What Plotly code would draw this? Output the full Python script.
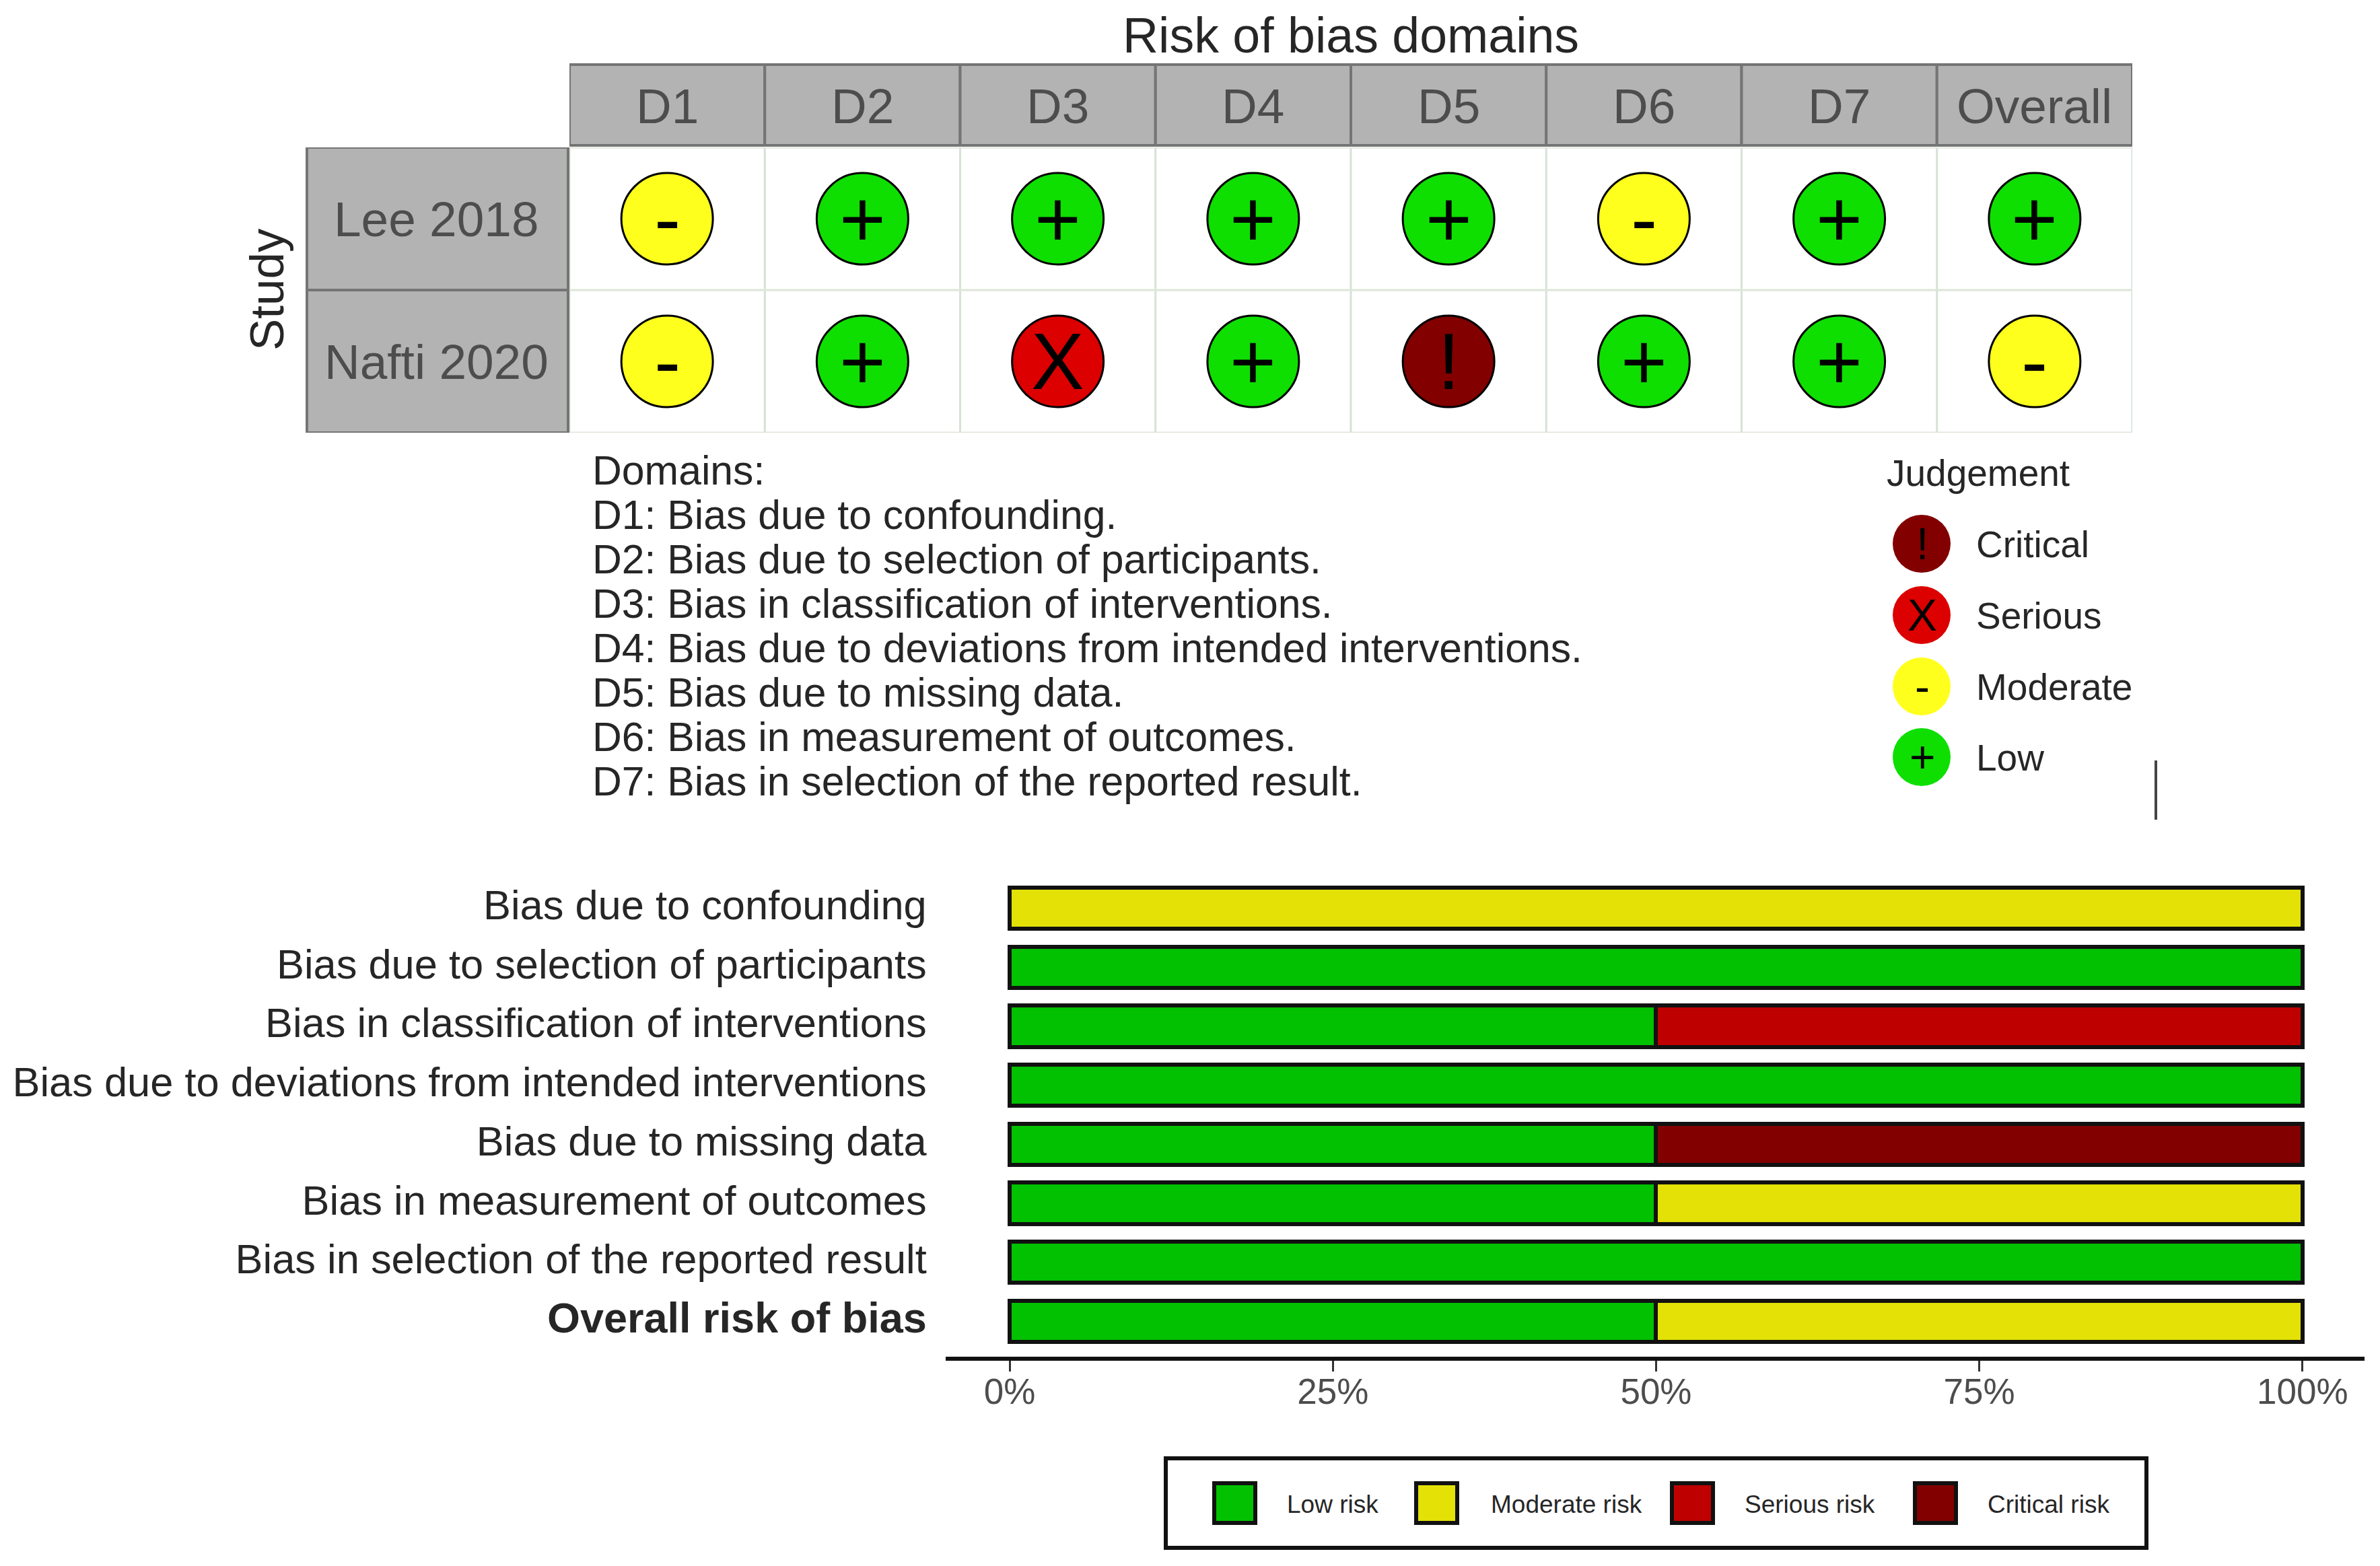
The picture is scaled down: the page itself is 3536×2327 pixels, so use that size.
import plotly.graph_objects as go

W, H = 3536, 2327
FONT = "Liberation Sans"
PAGE_MARGIN = 8  # the page body's default margin

# ---- data ----
domains = ["D1", "D2", "D3", "D4", "D5", "D6", "D7", "Overall"]
studies = ["Lee 2018", "Nafti 2020"]
judgements = {
    "Lee 2018":   ["Moderate", "Low", "Low", "Low", "Low", "Moderate", "Low", "Low"],
    "Nafti 2020": ["Moderate", "Low", "Serious", "Low", "Critical", "Low", "Low", "Moderate"],
}
domain_notes = [
    "Domains:",
    "D1: Bias due to confounding.",
    "D2: Bias due to selection of participants.",
    "D3: Bias in classification of interventions.",
    "D4: Bias due to deviations from intended interventions.",
    "D5: Bias due to missing data.",
    "D6: Bias in measurement of outcomes.",
    "D7: Bias in selection of the reported result.",
]
bias_labels = [
    "Bias due to confounding",
    "Bias due to selection of participants",
    "Bias in classification of interventions",
    "Bias due to deviations from intended interventions",
    "Bias due to missing data",
    "Bias in measurement of outcomes",
    "Bias in selection of the reported result",
    "Overall risk of bias",
]
low_pct = [0, 100, 50, 100, 50, 50, 100, 50]
moderate_pct = [100, 0, 0, 0, 0, 50, 0, 50]
serious_pct = [0, 0, 50, 0, 0, 0, 0, 0]
critical_pct = [0, 0, 0, 0, 50, 0, 0, 0]
x_ticks = [0, 25, 50, 75, 100]
x_ticklabels = ["0%", "25%", "50%", "75%", "100%"]
judgement_order = ["Critical", "Serious", "Moderate", "Low"]
judgement_symbols = {"Critical": "!", "Serious": "X", "Moderate": "-", "Low": "+"}
judgement_colors = {"Critical": "#820000", "Serious": "#DC0000", "Moderate": "#FFFF1E", "Low": "#0EDF00"}
bar_series = [("Low risk", low_pct, "#02C100"), ("Moderate risk", moderate_pct, "#E3E106"),
              ("Serious risk", serious_pct, "#BF0000"), ("Critical risk", critical_pct, "#820000")]


# ---- layout helpers (pixel positions of the page to figure fractions) ----
def px(x):
    return (x - PAGE_MARGIN) / W


def py(y):
    return 1 - (y - PAGE_MARGIN) / H


STRIP_FILL, STRIP_LINE, STRIP_TEXT = "#B3B3B3", "#757575", "#4D4D4D"
GRID_LEFT, GRID_RIGHT, GRID_TOP, GRID_BOTTOM = 846, 3168, 219, 643
HEAD_TOP = 96
STRIP_LEFT = 456

shapes, annotations = [], []


def box(x0, y0, x1, y1, fill, line, lw, layer="above", kind="rect"):
    shapes.append(dict(type=kind, xref="paper", yref="paper", x0=px(x0), x1=px(x1), y0=py(y0), y1=py(y1),
                       fillcolor=fill, line=dict(color=line, width=lw), layer=layer))


def label(x, y, text, size, color="#262626", anchor="left", angle=0):
    annotations.append(dict(xref="paper", yref="paper", x=px(x), y=py(y), text=text, showarrow=False,
                            xanchor=anchor, yanchor="middle", textangle=angle,
                            font=dict(family=FONT, size=size, color=color)))


fig = go.Figure()

# ---- traffic-light panel ----
for study in studies:
    js = judgements[study]
    fig.add_trace(go.Scatter(
        x=domains, y=[study] * len(domains), mode="markers", xaxis="x", yaxis="y",
        marker=dict(size=136, color=[judgement_colors[j] for j in js], line=dict(color="black", width=3)),
        showlegend=False, name=study, cliponaxis=False))
    for d, j in zip(domains, js):
        annotations.append(dict(xref="x", yref="y", x=d, y=study, text=judgement_symbols[j], showarrow=False,
                                xanchor="center", yanchor="middle",
                                font=dict(family=FONT, size=118, color="black")))

# grid lines of the panel
for i in range(len(domains) + 1):
    shapes.append(dict(type="line", xref="x", yref="paper", x0=i - 0.5, x1=i - 0.5,
                       y0=py(GRID_TOP), y1=py(GRID_BOTTOM), line=dict(color="#D6E2D6", width=3), layer="below"))
for i in range(len(studies) + 1):
    shapes.append(dict(type="line", xref="paper", yref="y", y0=i - 0.5, y1=i - 0.5,
                       x0=px(GRID_LEFT), x1=px(GRID_RIGHT), line=dict(color="#DDE5D8", width=3), layer="below"))

# header strips
for i, d in enumerate(domains):
    shapes.append(dict(type="rect", xref="x", yref="paper", x0=i - 0.5, x1=i + 0.5, y0=py(HEAD_TOP), y1=py(GRID_TOP - 3),
                       fillcolor=STRIP_FILL, line=dict(color=STRIP_LINE, width=4), layer="below"))
    annotations.append(dict(xref="x", yref="paper", x=i, y=py(157), text=d, showarrow=False,
                            xanchor="center", yanchor="middle",
                            font=dict(family=FONT, size=73, color=STRIP_TEXT)))
# study strips
for i, s in enumerate(studies):
    shapes.append(dict(type="rect", xref="paper", yref="y", x0=px(STRIP_LEFT), x1=px(GRID_LEFT - 2), y0=i - 0.5, y1=i + 0.5,
                       fillcolor=STRIP_FILL, line=dict(color=STRIP_LINE, width=4), layer="below"))
    annotations.append(dict(xref="paper", yref="y", x=px(648), y=i, text=s, showarrow=False,
                            xanchor="center", yanchor="middle",
                            font=dict(family=FONT, size=73, color=STRIP_TEXT)))

label(2007, 52, "Risk of bias domains", 73.5, anchor="center")
label(397, 430, "Study", 71, anchor="center", angle=-90)

# domain notes
note_y = [699, 765, 831, 897, 963, 1029, 1095, 1161]
for y, t in zip(note_y, domain_notes):
    label(878, y, t, 60.7)

# judgement key
label(2801, 703, "Judgement", 55)
for y, j in zip([808, 914, 1020, 1125], judgement_order):
    box(2812, y - 43, 2898, y + 43, judgement_colors[j], judgement_colors[j], 0, kind="circle")
    label(2856, y, judgement_symbols[j], 66, color="black", anchor="center")
    label(2934, y + 1, j, 55)

# stray rule beside the key
box(3203, 1130, 3203, 1218, "rgba(0,0,0,0)", "#444444", 4)

# ---- summary bars ----
for name, vals, color in bar_series:
    fig.add_trace(go.Bar(
        y=bias_labels, x=vals, orientation="h", name=name, xaxis="x2", yaxis="y2",
        marker=dict(color=color, line=dict(color="#111111", width=6)), showlegend=False))

# bottom legend, drawn as a key box
box(1732, 2167, 3189, 2300, "white", "#111111", 6)
for (x0, x1, tx), (name, _, color) in zip(
        [(1804, 1865, 1910), (2104, 2165, 2213), (2484, 2545, 2590), (2845, 2906, 2951)], bar_series):
    box(x0, 2204, x1, 2263, color, "#111111", 6)
    label(tx, 2235, name, 37)

bias_ticktext = bias_labels[:-1] + ['<span style="font-size:63px"><b>' + bias_labels[-1] + "</b></span>"]

fig.update_layout(
    width=W, height=H, margin=dict(l=0, r=0, t=0, b=0, autoexpand=False), autosize=False,
    paper_bgcolor="white", plot_bgcolor="white", barmode="stack", bargap=0.3,
    font=dict(family=FONT),
    shapes=shapes, annotations=annotations,
    xaxis=dict(domain=[px(GRID_LEFT), px(GRID_RIGHT)], range=[-0.5, 7.5], type="category",
               categoryorder="array", categoryarray=domains, showticklabels=False,
               showgrid=False, zeroline=False, ticks="", anchor="y"),
    yaxis=dict(domain=[py(GRID_BOTTOM), py(GRID_TOP)], range=[1.5, -0.5], type="category",
               categoryorder="array", categoryarray=studies, showticklabels=False,
               showgrid=False, zeroline=False, ticks="", anchor="x"),
    xaxis2=dict(domain=[px(1405), px(3513)], range=[-4.95, 104.8], tickvals=x_ticks, ticktext=x_ticklabels,
                showline=True, linecolor="#111111", linewidth=6, ticks="outside", ticklen=16, tickwidth=3,
                tickcolor="#333333", showgrid=False, zeroline=False, anchor="y2", ticklabelstandoff=-16,
                tickfont=dict(family=FONT, size=53, color="#4D4D4D")),
    yaxis2=dict(domain=[py(2016), py(1297)], range=[7.6, -0.6], type="category",
                categoryorder="array", categoryarray=bias_labels, showgrid=False, zeroline=False,
                tickmode="array", tickvals=bias_labels, ticktext=bias_ticktext,
                showline=False, ticks="outside", ticklen=15, tickcolor="rgba(0,0,0,0)", anchor="x2",
                ticklabelshift=5,
                tickfont=dict(family=FONT, size=61.4, color="#262626")),
)

fig.write_html("out.html")
